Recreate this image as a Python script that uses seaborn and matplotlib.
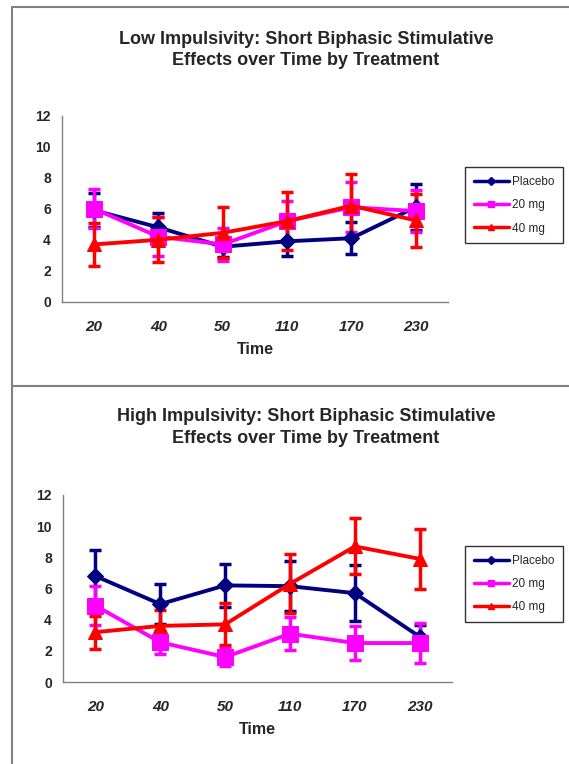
import matplotlib
matplotlib.use('Agg')
import matplotlib.pyplot as plt
from matplotlib.lines import Line2D
import seaborn as sns
import pandas as pd
import numpy as np

times = ['20', '40', '50', '110', '170', '230']
groups = ['Placebo', '20 mg', '40 mg']

# low impulsivity means and error bar half-lengths
low_placebo = [5.9, 4.8, 3.55, 3.9, 4.1, 6.1]
low_placebo_err = [1.1, 0.9, 0.65, 0.95, 1.05, 1.5]
low_20 = [6.0, 4.2, 3.7, 5.2, 6.1, 5.85]
low_20_err = [1.25, 1.25, 1.05, 1.3, 1.6, 1.35]
low_40 = [3.7, 4.0, 4.45, 5.2, 6.2, 5.25]
low_40_err = [1.4, 1.45, 1.65, 1.85, 2.05, 1.7]

# high impulsivity
high_placebo = [6.8, 5.0, 6.2, 6.15, 5.7, 2.9]
high_placebo_err = [1.7, 1.3, 1.4, 1.6, 1.8, 0.75]
high_20 = [4.9, 2.55, 1.6, 3.1, 2.5, 2.5]
high_20_err = [1.25, 0.75, 0.6, 1.05, 1.1, 1.3]
high_40 = [3.2, 3.6, 3.7, 6.3, 8.7, 7.9]
high_40_err = [1.05, 1.0, 1.35, 1.9, 1.8, 1.95]

titles = ['Low Impulsivity: Short Biphasic Stimulative\nEffects over Time by Treatment',
          'High Impulsivity: Short Biphasic Stimulative\nEffects over Time by Treatment']

colors = {'Placebo': '#000080', '20 mg': '#FF00FF', '40 mg': '#FF0000'}
markers = {'Placebo': 'D', '20 mg': 's', '40 mg': '^'}
msizes = {'Placebo': 8, '20 mg': 11, '40 mg': 10}


def make_df(vals, errs):
    rows = []
    for g, v, e in zip(groups, vals, errs):
        for i, t in enumerate(times):
            rows.append({'pos': i, 'time': t, 'group': g, 'value': v[i], 'err': e[i]})
    return pd.DataFrame(rows)


sns.set_style('white')
plt.rcParams['font.family'] = ['Liberation Sans', 'DejaVu Sans']

fig = plt.figure(figsize=(5.69, 7.64), dpi=100)

panels = [
    (make_df([low_placebo, low_20, low_40], [low_placebo_err, low_20_err, low_40_err]),
     [0.109, 0.605, 0.678, 0.2435], 0.960, 0.781),
    (make_df([high_placebo, high_20, high_40], [high_placebo_err, high_20_err, high_40_err]),
     [0.1107, 0.1073, 0.684, 0.2448], 0.466, 0.2853),
]

for k, (df, rect, title_y, leg_y) in enumerate(panels):
    ax = fig.add_axes(rect)
    for g in groups:
        d = df[df['group'] == g]
        ax.errorbar(d['pos'], d['value'], yerr=d['err'], fmt='none',
                    ecolor=colors[g], elinewidth=2.5, capsize=4, capthick=2.5, zorder=2)
        sns.lineplot(data=d, x='pos', y='value', color=colors[g], marker=markers[g],
                     markersize=msizes[g], markeredgecolor=colors[g], linewidth=2.8,
                     ax=ax, zorder=3, label=g, legend=False)
    ax.set_xlim(-0.5, len(times) - 0.5)
    ax.set_ylim(0, 12)
    ax.set_yticks(range(0, 13, 2))
    ax.set_yticklabels([str(v) for v in range(0, 13, 2)], fontsize=10, fontweight='bold')
    # excel style: tick marks between categories, labels in the middle
    ax.set_xticks(np.arange(-0.5, len(times)), labels=[''] * (len(times) + 1))
    ax.set_xticks(np.arange(len(times)), labels=times, minor=True)
    ax.tick_params(axis='x', which='minor', length=0, pad=13)
    ax.tick_params(axis='x', which='major', length=5, width=1, color='#808080', direction='out')
    ax.tick_params(axis='y', length=4, width=1, color='#808080', direction='out', pad=4)
    for lab in ax.get_xticklabels(minor=True):
        lab.set_fontsize(11)
        lab.set_fontweight('bold')
        lab.set_fontstyle('italic')
    ax.set_xlabel('Time', fontsize=11.5, fontweight='bold', labelpad=6)
    ax.set_ylabel('')
    sns.despine(ax=ax)
    for side in ['left', 'bottom']:
        ax.spines[side].set_color('#808080')
        ax.spines[side].set_linewidth(1)

    fig.text(0.538, title_y, titles[k], ha='center', va='top', fontsize=13,
             fontweight='bold', linespacing=1.35)

    handles = [Line2D([0], [0], color=colors[g], marker=markers[g], markersize=4,
                      linewidth=2.5) for g in groups]
    fig.legend(handles, groups, loc='upper left', bbox_to_anchor=(0.817, leg_y),
               frameon=True, fancybox=False, edgecolor='black', fontsize=8.5,
               handlelength=3.0, labelspacing=0.95, borderpad=0.75, handletextpad=0.2,
               borderaxespad=0)

# frame lines
border = '#808080'
fig.add_artist(Line2D([0.0211, 1], [0.9908, 0.9908], color=border, lw=1.5))
fig.add_artist(Line2D([0.0211, 0.0211], [0, 0.9908], color=border, lw=1.5))
fig.add_artist(Line2D([0.0211, 1], [0.4948, 0.4948], color=border, lw=1.5))

fig.savefig('out.png', dpi=100)
